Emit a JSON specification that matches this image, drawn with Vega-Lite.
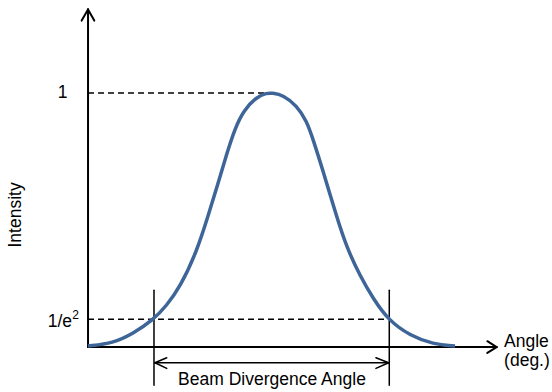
{
  "$schema": "https://vega.github.io/schema/vega-lite/v6.json",
  "width": 552,
  "height": 392,
  "autosize": {"type": "fit", "contains": "padding"},
  "padding": 0,
  "background": "white",
  "config": {"view": {"stroke": null}},
  "datasets": {
    "curve": [
      {"angle": -1.559, "intensity": 0.004},
      {"angle": -1.347, "intensity": 0.015},
      {"angle": -1.178, "intensity": 0.053},
      {"angle": -1.008, "intensity": 0.106},
      {"angle": -0.894, "intensity": 0.163},
      {"angle": -0.780, "intensity": 0.235},
      {"angle": -0.638, "intensity": 0.375},
      {"angle": -0.542, "intensity": 0.515},
      {"angle": -0.460, "intensity": 0.640},
      {"angle": -0.384, "intensity": 0.760},
      {"angle": -0.314, "intensity": 0.860},
      {"angle": -0.243, "intensity": 0.930},
      {"angle": -0.130, "intensity": 0.985},
      {"angle": -0.045, "intensity": 1.0},
      {"angle": 0.0, "intensity": 1.0},
      {"angle": 0.096, "intensity": 0.992},
      {"angle": 0.209, "intensity": 0.950},
      {"angle": 0.294, "intensity": 0.890},
      {"angle": 0.350, "intensity": 0.815},
      {"angle": 0.435, "intensity": 0.690},
      {"angle": 0.548, "intensity": 0.513},
      {"angle": 0.635, "intensity": 0.390},
      {"angle": 0.746, "intensity": 0.280},
      {"angle": 0.858, "intensity": 0.190},
      {"angle": 0.986, "intensity": 0.106},
      {"angle": 1.169, "intensity": 0.045},
      {"angle": 1.367, "intensity": 0.011},
      {"angle": 1.551, "intensity": 0.004}
    ],
    "axes": [
      {"x1": -1.559, "y1": 0.0, "x2": -1.559, "y2": 1.329},
      {"x1": -1.559, "y1": 1.329, "x2": -1.613, "y2": 1.285},
      {"x1": -1.559, "y1": 1.329, "x2": -1.506, "y2": 1.285},
      {"x1": -1.559, "y1": 0.0, "x2": 1.904, "y2": 0.0},
      {"x1": 1.904, "y1": 0.0, "x2": 1.825, "y2": 0.023},
      {"x1": 1.904, "y1": 0.0, "x2": 1.825, "y2": -0.023}
    ],
    "marks": [
      {"x1": -1.0, "y1": 0.224, "x2": -1.0, "y2": -0.150},
      {"x1": 0.994, "y1": 0.224, "x2": 0.994, "y2": -0.150},
      {"x1": -0.992, "y1": -0.062, "x2": 0.988, "y2": -0.062},
      {"x1": -0.992, "y1": -0.062, "x2": -0.892, "y2": -0.042},
      {"x1": -0.992, "y1": -0.062, "x2": -0.892, "y2": -0.084},
      {"x1": 0.988, "y1": -0.062, "x2": 0.881, "y2": -0.042},
      {"x1": 0.988, "y1": -0.062, "x2": 0.881, "y2": -0.084}
    ],
    "dashes": [
      {"x1": -1.559, "y1": 1.0, "x2": 0.0, "y2": 1.0},
      {"x1": -1.559, "y1": 0.109, "x2": 0.992, "y2": 0.109}
    ],
    "centerLabels": [
      {"x": -1.775, "y": 1.0, "text": "1"},
      {"x": 0.0, "y": -0.130, "text": "Beam Divergence Angle"}
    ],
    "rightLabels": [
      {"x": -1.695, "y": 0.1, "text": "1/e"}
    ],
    "supLabels": [
      {"x": -1.692, "y": 0.125, "text": "2"}
    ],
    "leftLabels": [
      {"x": 1.967, "y": 0.021, "text": "Angle"},
      {"x": 1.967, "y": -0.054, "text": "(deg.)"}
    ],
    "ylabel": [
      {"x": -2.17, "y": 0.52, "text": "Intensity"}
    ]
  },
  "layer": [
    {
      "data": {"name": "dashes"},
      "mark": {"type": "rule", "color": "black", "strokeWidth": 1.5, "strokeDash": [6, 4]},
      "encoding": {
        "x": {"field": "x1", "type": "quantitative", "scale": {"domain": [-2.305, 2.373], "nice": false, "zero": false}, "axis": null},
        "y": {"field": "y1", "type": "quantitative", "scale": {"domain": [-0.177, 1.366], "nice": false, "zero": false}, "axis": null},
        "x2": {"field": "x2"},
        "y2": {"field": "y2"}
      }
    },
    {
      "data": {"name": "axes"},
      "mark": {"type": "rule", "color": "black", "strokeWidth": 2, "strokeCap": "round"},
      "encoding": {
        "x": {"field": "x1", "type": "quantitative"},
        "y": {"field": "y1", "type": "quantitative"},
        "x2": {"field": "x2"},
        "y2": {"field": "y2"}
      }
    },
    {
      "data": {"name": "marks"},
      "mark": {"type": "rule", "color": "black", "strokeWidth": 1.5, "strokeCap": "round"},
      "encoding": {
        "x": {"field": "x1", "type": "quantitative"},
        "y": {"field": "y1", "type": "quantitative"},
        "x2": {"field": "x2"},
        "y2": {"field": "y2"}
      }
    },
    {
      "data": {"name": "curve"},
      "mark": {"type": "line", "color": "#3e6598", "strokeWidth": 3.5, "interpolate": "basis"},
      "encoding": {
        "x": {"field": "angle", "type": "quantitative"},
        "y": {"field": "intensity", "type": "quantitative"}
      }
    },
    {
      "data": {"name": "centerLabels"},
      "mark": {"type": "text", "font": "Liberation Sans", "fontSize": 17.5, "color": "black", "baseline": "middle", "align": "center"},
      "encoding": {
        "x": {"field": "x", "type": "quantitative"},
        "y": {"field": "y", "type": "quantitative"},
        "text": {"field": "text"}
      }
    },
    {
      "data": {"name": "rightLabels"},
      "mark": {"type": "text", "font": "Liberation Sans", "fontSize": 17.5, "color": "black", "baseline": "middle", "align": "right"},
      "encoding": {
        "x": {"field": "x", "type": "quantitative"},
        "y": {"field": "y", "type": "quantitative"},
        "text": {"field": "text"}
      }
    },
    {
      "data": {"name": "supLabels"},
      "mark": {"type": "text", "font": "Liberation Sans", "fontSize": 12, "color": "black", "baseline": "middle", "align": "left"},
      "encoding": {
        "x": {"field": "x", "type": "quantitative"},
        "y": {"field": "y", "type": "quantitative"},
        "text": {"field": "text"}
      }
    },
    {
      "data": {"name": "leftLabels"},
      "mark": {"type": "text", "font": "Liberation Sans", "fontSize": 17.5, "color": "black", "baseline": "middle", "align": "left"},
      "encoding": {
        "x": {"field": "x", "type": "quantitative"},
        "y": {"field": "y", "type": "quantitative"},
        "text": {"field": "text"}
      }
    },
    {
      "data": {"name": "ylabel"},
      "mark": {"type": "text", "font": "Liberation Sans", "fontSize": 17.5, "color": "black", "baseline": "middle", "align": "center", "angle": 270},
      "encoding": {
        "x": {"field": "x", "type": "quantitative"},
        "y": {"field": "y", "type": "quantitative"},
        "text": {"field": "text"}
      }
    }
  ]
}
